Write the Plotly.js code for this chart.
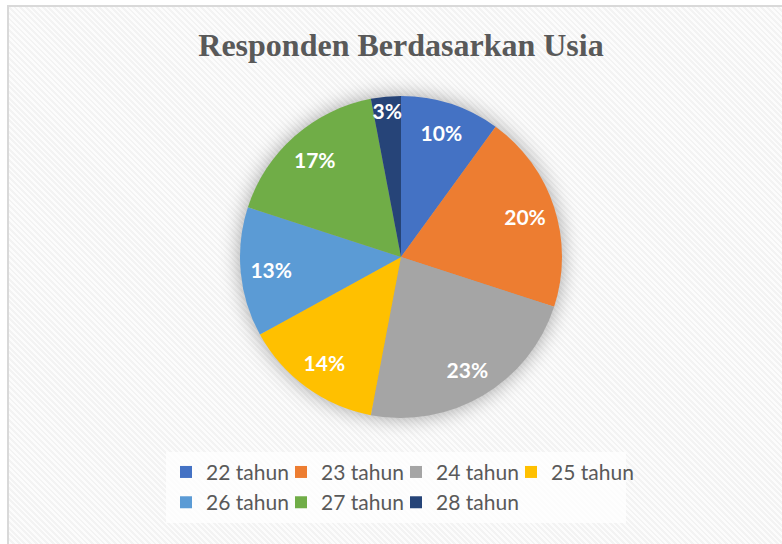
<!DOCTYPE html>
<html>
<head>
<meta charset="utf-8">
<script src="https://cdn.plot.ly/plotly-3.0.1.min.js"></script>
<style>
  html, body { margin: 0; padding: 0; background: #ffffff; overflow: hidden; }
  #frame {
    position: absolute; left: 7px; top: 5px; width: 800px; height: 560px;
    border: 2px solid #d9d9d9; box-sizing: border-box;
    background: repeating-linear-gradient(45deg, #f3f3f3 0px, #f3f3f3 2px, #fcfcfc 2px, #fcfcfc 4px);
  }
  #chart { position: absolute; left: 0; top: 0; width: 782px; height: 544px; }
  #chart .pielayer .trace:first-child { filter: drop-shadow(0px 0px 10px rgba(0,0,0,0.35)); }
  #chart .legend .scrollbox { clip-path: none !important; }
</style>
</head>
<body>
<div id="frame"></div>
<div id="chart"></div>
<script>
const categories = ["22 tahun", "23 tahun", "24 tahun", "25 tahun", "26 tahun", "27 tahun", "28 tahun"];
const percentages = [10, 20, 23, 14, 13, 17, 3];
const sliceColors = ["#4472C4", "#ED7D31", "#A5A5A5", "#FFC000", "#5B9BD5", "#70AD47", "#264478"];
const chartTitle = "Responden Berdasarkan Usia";

const pieTrace = {
  type: "pie",
  labels: categories,
  values: percentages,
  sort: false,
  direction: "clockwise",
  rotation: 0,
  marker: { colors: sliceColors, line: { width: 0 } },
  textinfo: "none",
  hoverinfo: "label+percent"
};

// label ring: same data, transparent, used only to place the percentage labels near the rim
const labelTrace = {
  type: "pie",
  labels: categories,
  values: percentages,
  sort: false,
  direction: "clockwise",
  rotation: 0,
  hole: 0.62,
  showlegend: false,
  marker: { colors: categories.map(() => "rgba(0,0,0,0)"), line: { width: 0 } },
  texttemplate: "%{value}%",
  textposition: "inside",
  insidetextorientation: "horizontal",
  textfont: { family: "Lato, 'Open Sans', sans-serif", size: 21, color: "#ffffff", weight: "bold" },
  hoverinfo: "skip"
};

const layout = {
  width: 782,
  height: 544,
  paper_bgcolor: "rgba(0,0,0,0)",
  plot_bgcolor: "rgba(0,0,0,0)",
  margin: { l: 151, r: 131, t: 96, b: 126 },
  uniformtext: { mode: "show", minsize: 21 },
  title: {
    text: "<b>" + chartTitle + "</b>",
    font: { family: "'Liberation Serif', 'Times New Roman', serif", size: 32, color: "#595959" },
    x: 0.5, xref: "paper", xanchor: "center",
    y: 0.917, yref: "container", yanchor: "middle"
  },
  showlegend: true,
  legend: {
    orientation: "h",
    x: 0.49, xanchor: "center",
    y: -0.105, yanchor: "top",
    entrywidth: 70,
    font: { family: "Lato, 'Open Sans', sans-serif", size: 21, color: "#595959" },
    bgcolor: "rgba(255,255,255,0.75)",
    traceorder: "normal"
  }
};

Plotly.newPlot("chart", [pieTrace, labelTrace], layout, { displayModeBar: false, staticPlot: true });
</script>
</body>
</html>
